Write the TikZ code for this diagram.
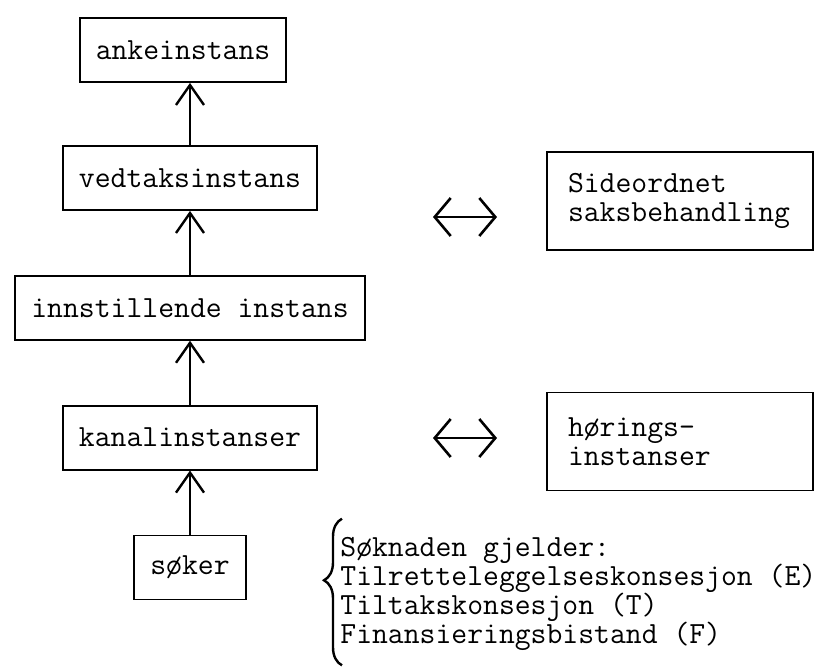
\documentclass[tikz,border=0pt]{standalone}
\usepackage{fontspec}
\usetikzlibrary{arrows.meta,positioning,decorations.pathreplacing}

\begin{document}
\begin{tikzpicture}[%
	node distance=32pt,>={Straight Barb[length=10pt,width=14pt]},
	font=\ttfamily\fontsize{15.4}{14.6}\selectfont,
	instans/.style={draw,line width=0.9pt,minimum height=32pt,inner xsep=8pt},
	sidebox/.style={draw,line width=0.9pt,align=left,text width=112pt,
		minimum height=49pt,inner xsep=10.5pt},
	up/.style={->,line width=1.2pt},
	both/.style={<->,line width=0.6pt,
		>={Straight Barb[length=8pt,width=19pt,line width=1.3pt]}}]

	\useasboundingbox (0,0) rectangle (412.5pt,-333pt);

	% main column
	\node[instans]	(anke)		at (95pt,-25pt)	[xshift=-3.5pt]	{ankeinstans};
	\node[instans]	(vedtak)	at (95pt,-89pt)	{vedtaksinstans};
	\node[instans]	(innst)		[below=of vedtak]	{innstillende instans};
	\node[instans]	(kanal)		[below=of innst]	{kanalinstanser};
	\node[instans]	(soker)		[below=of kanal]	{søker};

	\draw[up] (vedtak.north) -- (vedtak.north |- anke.south);
	\draw[up] (innst.north)  -- (vedtak.south);
	\draw[up] (kanal.north)  -- (innst.south);
	\draw[up] (soker.north)  -- (kanal.south);

	% side boxes
	\node[sidebox]	(side)		at (340pt,-100.5pt)	{Sideordnet\\saksbehandling};
	\node[sidebox]	(horing)	at (340pt,-220.75pt)	{hørings-\\instanser};

	\coordinate (sideL) at (216.5pt,-108.5pt);
	\coordinate (sideR) at (248.5pt,-108.5pt);
	\coordinate (horL)  at (216.5pt,-219pt);
	\coordinate (horR)  at (248.5pt,-219pt);
	\draw[both] (sideL) -- (sideR);
	\draw[both] (horL) -- (horR);

	% what the application is for
	\node (list) [anchor=west,align=left,inner sep=0pt] at (170pt,-297pt) {%
		Søknaden gjelder:\\
		Tilretteleggelseskonsesjon (E)\\
		Tiltakskonsesjon (T)\\
		Finansieringsbistand (F)
	};
	\draw[line width=1.2pt,decorate,decoration={brace,amplitude=9pt,aspect=0.58}]
		([xshift=1pt,yshift=-7pt]list.south west) -- ([xshift=1pt,yshift=9pt]list.north west);

\end{tikzpicture}
\end{document}
